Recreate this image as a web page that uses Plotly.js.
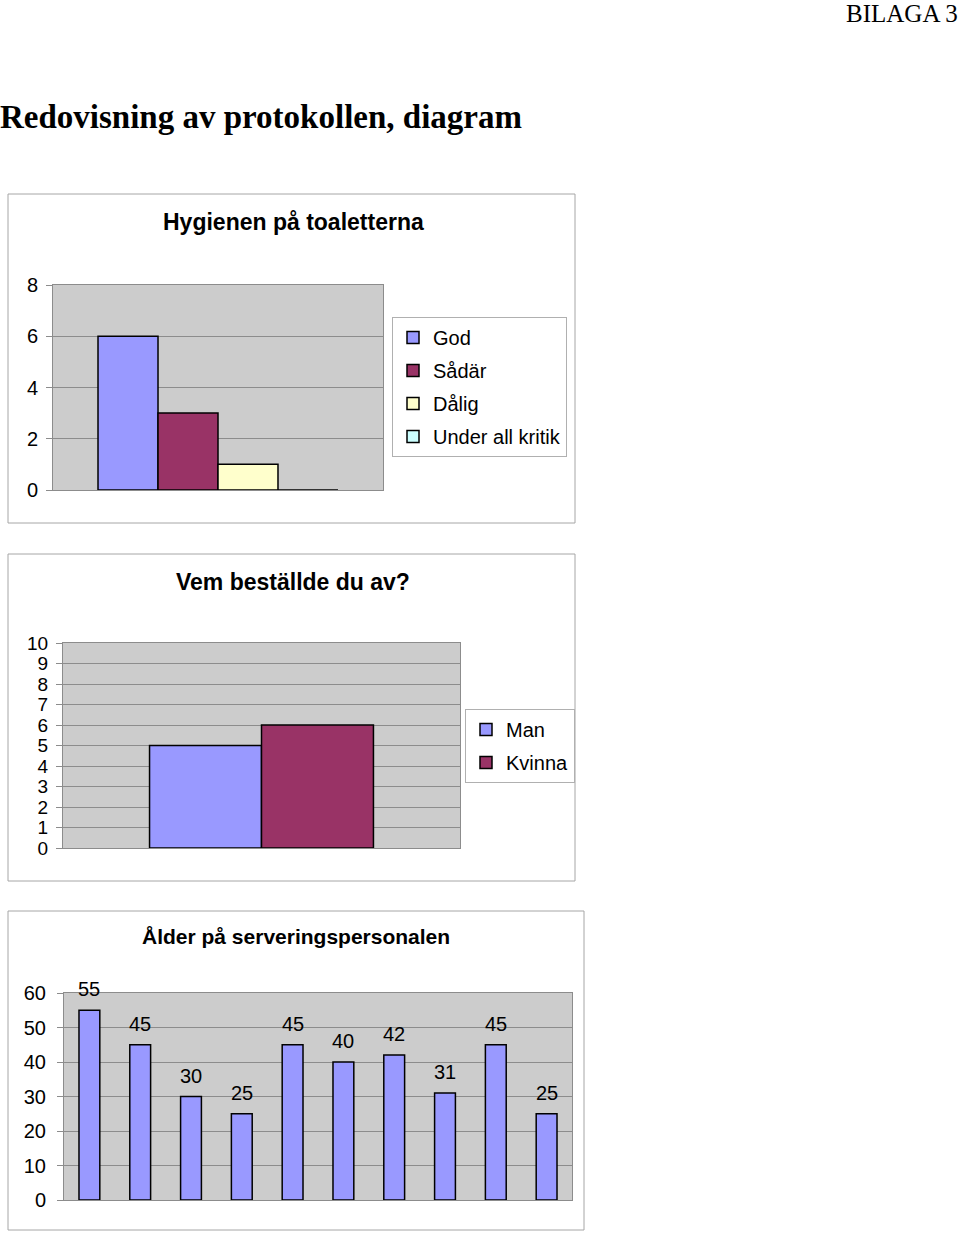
<!DOCTYPE html>
<html>
<head>
<meta charset="utf-8">
<script src="https://cdn.plot.ly/plotly-3.0.1.min.js"></script>
<style>
html, body { margin: 0; padding: 0; background: #fff; }
#page { width: 960px; height: 1233px; }
</style>
</head>
<body>
<div id="page"></div>
<script>
// chart 1: Hygienen på toaletterna
var hygienNames = ['God', 'Sådär', 'Dålig', 'Under all kritik'];
var hygienVals = [6, 3, 1, 0];
var hygienColors = ['#9999ff', '#993366', '#ffffcc', '#ccffff'];

// chart 2: Vem beställde du av?
var genderNames = ['Man', 'Kvinna'];
var genderVals = [5, 6];
var genderColors = ['#9999ff', '#993366'];

// chart 3: Ålder på serveringspersonalen
var agePos = [1, 2, 3, 4, 5, 6, 7, 8, 9, 10];
var ageVals = [55, 45, 30, 25, 45, 40, 42, 31, 45, 25];

var W = 960, H = 1233;
function px(x) { return x / W; }
function py(y) { return 1 - y / H; }

var txt = 'Liberation Sans, Arial, sans-serif';
var serif = 'Liberation Serif, Times New Roman, serif';

function yAxis(top, bottom, max, step, size, standoff) {
  return {
    domain: [py(bottom), py(top)], range: [0, max], dtick: step, tick0: 0,
    showgrid: true, gridcolor: '#8c8c8c', gridwidth: 1,
    showline: true, linecolor: '#8c8c8c', mirror: true,
    ticks: 'outside', ticklen: 6, tickcolor: '#8c8c8c',
    ticklabelstandoff: standoff,
    zeroline: false, fixedrange: true,
    tickfont: {family: txt, size: size, color: '#000'}
  };
}
function xAxis(left, right, lo, hi, anchor) {
  return {
    domain: [px(left), px(right)], range: [lo, hi], anchor: anchor,
    showline: true, linecolor: '#8c8c8c', mirror: true,
    showticklabels: false, ticks: '', showgrid: false, zeroline: false, fixedrange: true
  };
}

var data = [];
var barLine = {color: '#000', width: 1.5};

var w1 = 0.1818;
for (var i = 0; i < hygienNames.length; i++) {
  data.push({
    type: 'bar', name: hygienNames[i], x: [0], y: [hygienVals[i]],
    width: w1, offset: -2 * w1 + i * w1,
    marker: {color: hygienColors[i], line: barLine},
    xaxis: 'x', yaxis: 'y', legend: 'legend', legendgroup: 'h' + i,
    hoverinfo: 'skip'
  });
}
var w2 = 0.282;
for (var i = 0; i < genderNames.length; i++) {
  data.push({
    type: 'bar', name: genderNames[i], x: [0], y: [genderVals[i]],
    width: w2, offset: -w2 + i * w2,
    marker: {color: genderColors[i], line: barLine},
    xaxis: 'x2', yaxis: 'y2', legend: 'legend2', legendgroup: 'g' + i,
    hoverinfo: 'skip'
  });
}
data.push({
  type: 'bar', x: agePos, y: ageVals, width: 0.41,
  marker: {color: '#9999ff', line: barLine},
  xaxis: 'x3', yaxis: 'y3', showlegend: false, hoverinfo: 'skip'
});

function label(text, x, y, font) {
  return {text: text, x: px(x), y: py(y), xref: 'paper', yref: 'paper',
          xanchor: 'center', yanchor: 'middle', showarrow: false, font: font};
}

var annotations = [
  {text: 'BILAGA 3', x: 1, y: py(13), xref: 'paper', yref: 'paper', xanchor: 'right', yanchor: 'middle',
   showarrow: false, font: {family: serif, size: 25, color: '#000'}},
  {text: '<b>Redovisning av protokollen, diagram</b>', x: px(-2), y: py(117), xref: 'paper', yref: 'paper',
   xanchor: 'left', yanchor: 'middle', showarrow: false, font: {family: serif, size: 33, color: '#000'}},
  label('<b>Hygienen på toaletterna</b>', 293, 222, {family: txt, size: 23, color: '#000'}),
  label('<b>Vem beställde du av?</b>', 293, 582, {family: txt, size: 23, color: '#000'}),
  label('<b>Ålder på serveringspersonalen</b>', 296, 936, {family: txt, size: 21, color: '#000'})
];
for (var i = 0; i < ageVals.length; i++) {
  annotations.push({
    text: String(ageVals[i]), x: agePos[i], y: ageVals[i], xref: 'x3', yref: 'y3',
    xanchor: 'center', yanchor: 'bottom', yshift: 8, showarrow: false,
    font: {family: txt, size: 20, color: '#000'}
  });
}

function box(x0, y0, x1, y1) {
  return {type: 'rect', xref: 'paper', yref: 'paper', x0: px(x0), x1: px(x1), y0: py(y1), y1: py(y0),
          line: {color: '#a6a6a6', width: 1}, fillcolor: 'rgba(0,0,0,0)', layer: 'below'};
}

var legendBase = {
  xanchor: 'left', yanchor: 'top', bgcolor: '#fff', bordercolor: '#b0b0b0', borderwidth: 1,
  font: {family: txt, size: 20, color: '#000'}, traceorder: 'grouped', tracegroupgap: 4
};

var layout = {
  width: W, height: H,
  margin: {l: 0, r: 0, t: 0, b: 0},
  paper_bgcolor: '#fff', plot_bgcolor: '#cccccc',
  barmode: 'overlay',
  showlegend: true,
  xaxis: xAxis(53, 383, -0.5, 0.5, 'y'),
  yaxis: yAxis(285, 490, 8, 2, 20, 4),
  xaxis2: xAxis(63, 460, -0.5, 0.5, 'y2'),
  yaxis2: yAxis(643, 848, 10, 1, 19, 4),
  xaxis3: xAxis(64, 572, 0.5, 10.5, 'y3'),
  yaxis3: yAxis(993, 1200, 60, 10, 20, 7),
  legend: Object.assign({}, legendBase, {x: px(392), y: py(317)}),
  legend2: Object.assign({}, legendBase, {x: px(465), y: py(709)}),
  annotations: annotations,
  shapes: [box(8, 194, 575, 523), box(8, 554, 575, 881), box(8, 911, 584, 1230)]
};
layout.yaxis.anchor = 'x';
layout.yaxis2.anchor = 'x2';
layout.yaxis3.anchor = 'x3';

Plotly.newPlot('page', data, layout, {displayModeBar: false, staticPlot: true});
</script>
</body>
</html>
